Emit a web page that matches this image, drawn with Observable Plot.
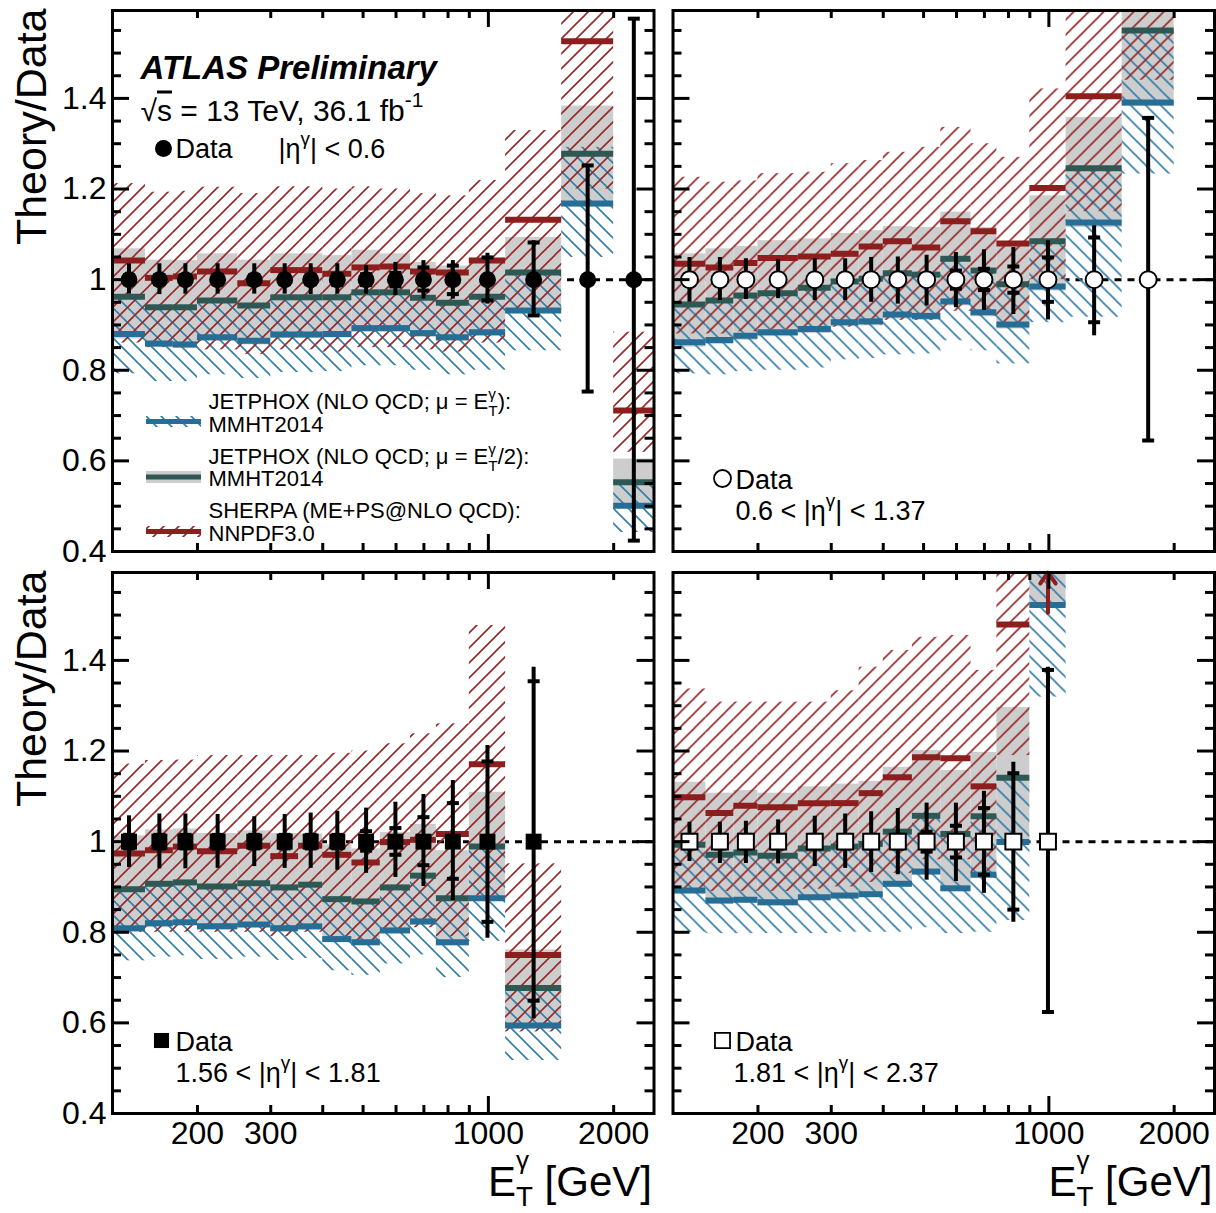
<!DOCTYPE html>
<html><head><meta charset="utf-8">
<script src="https://cdn.jsdelivr.net/npm/d3@7"></script>
<script src="https://cdn.jsdelivr.net/npm/@observablehq/plot@0.6"></script>
<style>html,body{margin:0;padding:0;background:#fff;}#chart{width:1216px;height:1213px;}</style>
</head><body><div id="chart"></div>
<script>
// ---------------- data ----------------
const edges = [125,150,175,200,250,300,350,400,470,550,650,750,900,1100,1500,2000,2500];
const xTickLabels = [200,300,1000,2000];
const xMinorTicks = [200,300,400,500,600,700,800,900,2000];
const xMajorTicks = [1000];
const yTickLabels = [0.4,0.6,0.8,1,1.2,1.4];
const yMinorTicks = [0.45,0.5,0.55,0.65,0.7,0.75,0.85,0.9,0.95,1.05,1.1,1.15,1.25,1.3,1.35,1.45,1.5,1.55];
const dataRatio = 1;

// |eta| < 0.6
const eta1_totUp  = [0.035,0.035,0.035,0.035,0.035,0.035,0.035,0.035,0.031,0.038,0.042,0.042,0.058,0.086,0.252,0.576];
const eta1_totDn  = [0.032,0.033,0.032,0.032,0.032,0.032,0.033,0.032,0.032,0.035,0.043,0.043,0.054,0.083,0.247,0.576];
const eta1_statUp = [0.01,0.01,0.01,0.01,0.01,0.01,0.01,0.012,0.012,0.015,0.027,0.031,0.049,0.082,0.252,0.576];
const eta1_statDn = [0.01,0.01,0.01,0.01,0.01,0.01,0.01,0.012,0.012,0.015,0.024,0.032,0.046,0.079,0.247,0.576];
const eta1_sherpa   = [1.042,1.004,1.007,1.018,0.992,1.021,1.021,1.013,1.027,1.029,1.018,1.016,1.042,1.132,1.526,0.711];
const eta1_sherpaLo = [0.86,0.85,0.85,0.845,0.835,0.845,0.845,0.84,0.85,0.85,0.845,0.84,0.86,0.93,1.2,0.619];
const eta1_sherpaHi = [1.212,1.193,1.195,1.204,1.19,1.205,1.205,1.2,1.205,1.2,1.19,1.185,1.219,1.329,1.85,0.884];
const eta1_jp2   = [0.962,0.939,0.939,0.954,0.943,0.961,0.961,0.961,0.972,0.972,0.96,0.949,0.962,1.016,1.278,0.553];
const eta1_jp2Lo = [0.869,0.85,0.848,0.864,0.856,0.87,0.87,0.871,0.884,0.884,0.873,0.864,0.875,0.925,1.16,0.505];
const eta1_jp2Hi = [1.068,1.043,1.042,1.057,1.043,1.057,1.057,1.053,1.065,1.057,1.038,1.03,1.047,1.093,1.383,0.604];
const eta1_jp   = [0.88,0.859,0.857,0.873,0.865,0.879,0.879,0.88,0.893,0.893,0.882,0.873,0.884,0.932,1.168,0.501];
const eta1_jpLo = [0.792,0.775,0.775,0.79,0.782,0.795,0.795,0.797,0.81,0.81,0.8,0.79,0.8,0.843,1.049,0.442];
const eta1_jpHi = [0.962,0.939,0.939,0.954,0.943,0.961,0.961,0.961,0.972,0.972,0.96,0.949,0.962,1.016,1.292,0.553];

// 0.6 < |eta| < 1.37
const eta2_totUp  = [0.049,0.049,0.046,0.044,0.046,0.046,0.049,0.05,0.054,0.06,0.066,0.071,0.086,0.119,0.357];
const eta2_totDn  = [0.05,0.046,0.044,0.042,0.046,0.046,0.05,0.054,0.058,0.062,0.068,0.077,0.089,0.124,0.355];
const eta2_statUp = [0.012,0.012,0.012,0.012,0.012,0.012,0.012,0.012,0.012,0.02,0.024,0.029,0.049,0.093,0.357];
const eta2_statDn = [0.012,0.012,0.012,0.012,0.012,0.012,0.012,0.012,0.012,0.02,0.023,0.029,0.049,0.094,0.355];
const eta2_sherpa   = [1.035,1.027,1.037,1.048,1.051,1.057,1.073,1.085,1.071,1.129,1.107,1.08,1.202,1.405,1.75];
const eta2_sherpaLo = [0.88,0.88,0.885,0.89,0.89,0.895,0.9,0.91,0.91,0.93,0.92,0.9,1.0,1.15,1.44];
const eta2_sherpaHi = [1.226,1.215,1.218,1.234,1.237,1.256,1.263,1.281,1.292,1.336,1.3,1.27,1.421,1.75,2.1];
const eta2_jp2   = [0.945,0.954,0.965,0.97,0.982,0.996,1.002,1.014,1.011,1.046,1.02,0.99,1.085,1.246,1.55];
const eta2_jp2Lo = [0.851,0.857,0.866,0.874,0.881,0.896,0.898,0.913,0.91,0.942,0.918,0.891,0.975,1.115,1.382];
const eta2_jp2Hi = [1.057,1.068,1.073,1.086,1.09,1.102,1.108,1.117,1.115,1.149,1.115,1.075,1.185,1.358,1.75];
const eta2_jp   = [0.862,0.867,0.876,0.884,0.891,0.906,0.908,0.923,0.92,0.952,0.928,0.901,0.985,1.126,1.391];
const eta2_jpLo = [0.792,0.79,0.797,0.8,0.805,0.823,0.826,0.834,0.836,0.865,0.843,0.814,0.905,0.917,1.233];
const eta2_jpHi = [0.945,0.954,0.965,0.97,0.982,0.996,1.002,1.014,1.011,1.046,1.02,0.99,1.085,1.246,1.55];

// 1.56 < |eta| < 1.81
const eta3_totUp  = [0.057,0.061,0.061,0.06,0.055,0.06,0.063,0.067,0.074,0.087,0.104,0.135,0.212,0.385];
const eta3_totDn  = [0.057,0.06,0.06,0.059,0.055,0.059,0.059,0.063,0.07,0.079,0.099,0.13,0.213,0.391];
const eta3_statUp = [0.015,0.015,0.015,0.015,0.015,0.015,0.015,0.015,0.023,0.03,0.054,0.085,0.177,0.354];
const eta3_statDn = [0.015,0.015,0.015,0.015,0.015,0.015,0.015,0.015,0.02,0.029,0.052,0.082,0.177,0.351];
const eta3_sherpa   = [0.974,0.981,0.989,0.979,0.991,0.968,0.991,0.971,0.954,0.999,1.004,1.017,1.171,0.75];
const eta3_sherpaLo = [0.8,0.8,0.8,0.8,0.8,0.79,0.8,0.79,0.78,0.8,0.81,0.79,0.88,0.58];
const eta3_sherpaHi = [1.171,1.179,1.18,1.19,1.19,1.19,1.19,1.195,1.2,1.216,1.238,1.26,1.477,0.951];
const eta3_jp2   = [0.895,0.907,0.91,0.901,0.908,0.899,0.905,0.873,0.868,0.899,0.925,0.875,0.989,0.677];
const eta3_jp2Lo = [0.8,0.81,0.815,0.805,0.81,0.8,0.805,0.777,0.77,0.797,0.815,0.77,0.87,0.587];
const eta3_jp2Hi = [1.013,1.026,1.028,1.018,1.024,1.018,1.017,0.993,0.984,1.02,1.038,0.98,1.109,0.761];
const eta3_jp   = [0.809,0.82,0.822,0.813,0.817,0.809,0.813,0.785,0.778,0.804,0.824,0.778,0.875,0.594];
const eta3_jpLo = [0.737,0.745,0.748,0.74,0.745,0.738,0.742,0.715,0.705,0.73,0.75,0.7,0.78,0.517];
const eta3_jpHi = [0.895,0.907,0.91,0.901,0.908,0.899,0.905,0.873,0.868,0.899,0.925,0.875,0.989,0.677];

// 1.81 < |eta| < 2.37
const eta4_totUp  = [0.043,0.043,0.045,0.048,0.056,0.061,0.066,0.073,0.085,0.085,0.111,0.175,0.385];
const eta4_totDn  = [0.044,0.048,0.048,0.049,0.055,0.059,0.068,0.073,0.085,0.088,0.114,0.178,0.38];
const eta4_statUp = [0.015,0.015,0.015,0.015,0.015,0.015,0.015,0.015,0.022,0.035,0.074,0.151,0.379];
const eta4_statDn = [0.015,0.015,0.015,0.015,0.015,0.015,0.015,0.015,0.022,0.035,0.073,0.15,0.376];
const eta4_sherpa   = [1.098,1.063,1.079,1.076,1.085,1.085,1.107,1.142,1.186,1.184,1.122,1.479,1.9];
const eta4_sherpaLo = [0.89,0.89,0.89,0.89,0.895,0.9,0.91,0.93,0.96,0.96,0.92,1.19,1.6];
const eta4_sherpaHi = [1.337,1.308,1.308,1.308,1.308,1.333,1.385,1.422,1.451,1.455,1.378,1.8,2.3];
const eta4_jp2   = [0.993,0.971,0.976,0.969,0.985,0.989,0.995,1.022,1.057,1.017,1.056,1.141,1.75];
const eta4_jp2Lo = [0.885,0.862,0.865,0.858,0.87,0.874,0.877,0.9,0.927,0.89,0.92,0.992,1.517];
const eta4_jp2Hi = [1.131,1.107,1.113,1.107,1.121,1.127,1.133,1.164,1.201,1.157,1.197,1.296,2.0];
const eta4_jp   = [0.892,0.87,0.872,0.866,0.877,0.881,0.884,0.907,0.934,0.897,0.927,0.999,1.522];
const eta4_jpLo = [0.8,0.797,0.797,0.797,0.797,0.8,0.8,0.8,0.81,0.797,0.8,0.826,1.319];
const eta4_jpHi = [0.993,0.971,0.976,0.969,0.985,0.989,0.995,1.022,1.057,1.017,1.056,1.141,1.75];
// SHERPA prediction off scale (arrow): bin index and arrow start
const eta4_arrow = [{bin: 12, from: 1.505}];

// ---------------- layout / style ----------------
const FONT = "'Liberation Sans', Arimo, Arial, Helvetica, sans-serif";
const W = 1216, H = 1213, ML = 112, MR = 2, MT = 10, MB = 100, GX = 19, GY = 21;
const PW = (W - ML - MR - GX) / 2, PH = (H - MT - MB - GY) / 2;
const Y_TOP = 1.594;
const GRAY = "#cdcdcd", RED = "#8c1e1e", REDH = "#962828", BLUE = "#266e96", BLUEH = "#327daa", TEAL = "#2e5854";

const panels = [
  {fx:0, fy:0, symbol:"circle", open:false, totUp:eta1_totUp, totDn:eta1_totDn, statUp:eta1_statUp, statDn:eta1_statDn,
   sh:eta1_sherpa, shLo:eta1_sherpaLo, shHi:eta1_sherpaHi, jp2:eta1_jp2, jp2Lo:eta1_jp2Lo, jp2Hi:eta1_jp2Hi, jp:eta1_jp, jpLo:eta1_jpLo, jpHi:eta1_jpHi, arrows:[]},
  {fx:1, fy:0, symbol:"circle", open:true, totUp:eta2_totUp, totDn:eta2_totDn, statUp:eta2_statUp, statDn:eta2_statDn,
   sh:eta2_sherpa, shLo:eta2_sherpaLo, shHi:eta2_sherpaHi, jp2:eta2_jp2, jp2Lo:eta2_jp2Lo, jp2Hi:eta2_jp2Hi, jp:eta2_jp, jpLo:eta2_jpLo, jpHi:eta2_jpHi, arrows:[]},
  {fx:0, fy:1, symbol:"square", open:false, totUp:eta3_totUp, totDn:eta3_totDn, statUp:eta3_statUp, statDn:eta3_statDn,
   sh:eta3_sherpa, shLo:eta3_sherpaLo, shHi:eta3_sherpaHi, jp2:eta3_jp2, jp2Lo:eta3_jp2Lo, jp2Hi:eta3_jp2Hi, jp:eta3_jp, jpLo:eta3_jpLo, jpHi:eta3_jpHi, arrows:[]},
  {fx:1, fy:1, symbol:"square", open:true, totUp:eta4_totUp, totDn:eta4_totDn, statUp:eta4_statUp, statDn:eta4_statDn,
   sh:eta4_sherpa, shLo:eta4_sherpaLo, shHi:eta4_sherpaHi, jp2:eta4_jp2, jp2Lo:eta4_jp2Lo, jp2Hi:eta4_jp2Hi, jp:eta4_jp, jpLo:eta4_jpLo, jpHi:eta4_jpHi, arrows:eta4_arrow}
];

function binsOf(p) {
  return p.sh.map((_, i) => ({
    fx: p.fx, fy: p.fy,
    x1: edges[i], x2: edges[i+1], xc: Math.sqrt(edges[i] * edges[i+1]),
    v: dataRatio,
    tlo: dataRatio - p.totDn[i], thi: dataRatio + p.totUp[i],
    slo: dataRatio - p.statDn[i], shi: dataRatio + p.statUp[i],
    sh: p.sh[i], shLo: p.shLo[i], shHi: p.shHi[i],
    jp2: p.jp2[i], jp2Lo: p.jp2Lo[i], jp2Hi: p.jp2Hi[i],
    jp: p.jp[i], jpLo: p.jpLo[i], jpHi: p.jpHi[i]
  }));
}

const hbar = {draw(ctx, size) { const w = Math.sqrt(size / Math.PI); ctx.moveTo(-w, 0); ctx.lineTo(w, 0); }};
const F = {fx: "fx", fy: "fy"};
const clip = true;

const marks = [];
marks.push(Plot.ruleY([dataRatio], {stroke: "black", strokeWidth: 3, strokeDasharray: "7,6"}));
for (const p of panels) {
  const bins = binsOf(p);
  marks.push(
    Plot.rect(bins, {...F, x1: "x1", x2: "x2", y1: "jp2Lo", y2: "jp2Hi", fill: GRAY, clip}),
    Plot.rect(bins, {...F, x1: "x1", x2: "x2", y1: "jpLo", y2: "jpHi", fill: "url(#hatchBlue)", clip}),
    Plot.rect(bins, {...F, x1: "x1", x2: "x2", y1: "shLo", y2: "shHi", fill: "url(#hatchRed)", clip}),
    Plot.ruleY(bins, {...F, x1: "x1", x2: "x2", y: "jp", stroke: BLUE, strokeWidth: 6, clip}),
    Plot.ruleY(bins, {...F, x1: "x1", x2: "x2", y: "jp2", stroke: TEAL, strokeWidth: 6, clip}),
    Plot.ruleY(bins, {...F, x1: "x1", x2: "x2", y: "sh", stroke: RED, strokeWidth: 6, clip})
  );
  if (p.arrows.length) {
    const arr = p.arrows.map(a => ({fx: p.fx, fy: p.fy, xc: bins[a.bin].xc, from: a.from, to: Y_TOP}));
    marks.push(Plot.arrow(arr, {...F, x: "xc", y1: "from", y2: "to", stroke: RED, strokeWidth: 4, headLength: 17, headAngle: 70}));
  }
  const statPts = bins.flatMap(d => [{...d, y: d.slo}, {...d, y: d.shi}]);
  marks.push(
    Plot.ruleX(bins, {...F, x: "xc", y1: "tlo", y2: "thi", stroke: "black", strokeWidth: 4, clip}),
    Plot.dot(statPts, {...F, x: "xc", y: "y", symbol: hbar, r: 6, stroke: "black", strokeWidth: 4, fill: "none"}),
    Plot.dot(bins, {...F, x: "xc", y: "v", symbol: p.symbol, r: p.symbol === "square" ? 9 : 8.5,
      fill: p.open ? "white" : "black", stroke: "black", strokeWidth: p.open ? 2 : 0})
  );
}

// frame + inward ticks (ROOT style)
const tk = {stroke: "black", strokeWidth: 3};
marks.push(
  Plot.ruleX(xMinorTicks, {x: d => d, insetTop: PH - 8, ...tk}),
  Plot.ruleX(xMinorTicks, {x: d => d, insetBottom: PH - 8, ...tk}),
  Plot.ruleX(xMajorTicks, {x: d => d, insetTop: PH - 17, ...tk}),
  Plot.ruleX(xMajorTicks, {x: d => d, insetBottom: PH - 17, ...tk}),
  Plot.ruleY(yMinorTicks, {y: d => d, insetRight: PW - 9, ...tk}),
  Plot.ruleY(yMinorTicks, {y: d => d, insetLeft: PW - 9, ...tk}),
  Plot.ruleY(yTickLabels, {y: d => d, insetRight: PW - 17, ...tk}),
  Plot.ruleY(yTickLabels, {y: d => d, insetLeft: PW - 17, ...tk}),
  Plot.frame({stroke: "black", strokeWidth: 3})
);

// texts
function txt(fx, fy, text, o) {
  return Plot.text([{fx, fy, text}], {...F, text: "text", frameAnchor: "top-left", textAnchor: "start", lineAnchor: "bottom", fill: "black", ...o});
}
function box(fx, fy, x0, y0, w, h, fill) {
  return Plot.rect([{fx, fy}], {...F, fill, insetLeft: x0, insetRight: PW - x0 - w, insetTop: y0, insetBottom: PH - y0 - h});
}
function mk(fx, fy, symbol, open, dx, dy) {
  return Plot.dot([{fx, fy}], {...F, frameAnchor: "top-left", dx, dy, symbol, r: 8.5,
    fill: open ? "white" : "black", stroke: "black", strokeWidth: open ? 1.8 : 0});
}
marks.push(
  txt(0, 0, "ATLAS Preliminary", {dx: 28, dy: 68, fontSize: 33, fontWeight: "bold", fontStyle: "italic"}),
  txt(0, 0, "√~{s} = 13 TeV, 36.1 fb^{-1}", {dx: 28, dy: 110, fontSize: 30}),
  mk(0, 0, "circle", false, 51, 138),
  txt(0, 0, "Data", {dx: 63, dy: 147, fontSize: 27}),
  txt(0, 0, "|η^{γ}| < 0.6", {dx: 166, dy: 147, fontSize: 27}),
  box(0, 0, 34, 406, 55, 11, "url(#hatchBlue)"),
  box(0, 0, 34, 409, 55, 5, BLUE),
  box(0, 0, 34, 461, 55, 12, GRAY),
  box(0, 0, 34, 464.5, 55, 5, TEAL),
  box(0, 0, 34, 516, 55, 11, "url(#hatchRed)"),
  box(0, 0, 34, 519, 55, 5, RED),
  txt(0, 0, "JETPHOX (NLO QCD; μ = E_{T}^{γ}):", {dx: 96, dy: 398, fontSize: 22}),
  txt(0, 0, "MMHT2014", {dx: 96, dy: 421, fontSize: 22}),
  txt(0, 0, "JETPHOX (NLO QCD; μ = E_{T}^{γ}/2):", {dx: 96, dy: 453, fontSize: 22}),
  txt(0, 0, "MMHT2014", {dx: 96, dy: 475, fontSize: 22}),
  txt(0, 0, "SHERPA (ME+PS@NLO QCD):", {dx: 96, dy: 507, fontSize: 22}),
  txt(0, 0, "NNPDF3.0", {dx: 96, dy: 530, fontSize: 22}),
  mk(1, 0, "circle", true, 49.5, 468),
  txt(1, 0, "Data", {dx: 62.5, dy: 478, fontSize: 27}),
  txt(1, 0, "0.6 < |η^{γ}| < 1.37", {dx: 62.5, dy: 509, fontSize: 27}),
  mk(0, 1, "square", false, 49, 468),
  txt(0, 1, "Data", {dx: 63, dy: 478, fontSize: 27}),
  txt(0, 1, "1.56 < |η^{γ}| < 1.81", {dx: 63, dy: 509, fontSize: 27}),
  mk(1, 1, "square", true, 49.5, 468),
  txt(1, 1, "Data", {dx: 62.5, dy: 478, fontSize: 27}),
  txt(1, 1, "1.81 < |η^{γ}| < 2.37", {dx: 60.5, dy: 509, fontSize: 27})
);
for (const fy of [0, 1]) {
  marks.push(Plot.text([{fx: 0, fy, text: "Theory/Data"}], {...F, text: "text", frameAnchor: "top-left", rotate: -90,
    textAnchor: "end", lineAnchor: "middle", dx: -80, dy: -2, fontSize: 43, fill: "black"}));
}
for (const fx of [0, 1]) {
  marks.push(Plot.text([{fx, fy: 1, text: "E_[T]^[γ] [GeV]"}], {...F, text: "text", frameAnchor: "bottom-right",
    textAnchor: "end", lineAnchor: "bottom", dx: -2, dy: 82, fontSize: 42, fill: "black"}));
}

const svg = Plot.plot({
  width: W, height: H, marginLeft: ML, marginRight: MR, marginTop: MT, marginBottom: MB,
  style: {fontFamily: FONT, fontSize: "32px", background: "white", color: "black", overflow: "visible"},
  fx: {domain: [0, 1], axis: null, paddingInner: GX / (PW + GX), paddingOuter: 0, round: false},
  fy: {domain: [0, 1], axis: null, paddingInner: GY / (PH + GY), paddingOuter: 0, round: false},
  x: {type: "log", domain: [125, 2500], ticks: xTickLabels, tickFormat: d => String(d), tickSize: 0, tickPadding: 8, label: null},
  y: {domain: [0.4, Y_TOP], ticks: yTickLabels, tickFormat: d => d === 1 ? "1" : d.toFixed(1), tickSize: 0, tickPadding: 6, label: null},
  marks
});
document.getElementById("chart").appendChild(svg);

// hatch patterns
const NS = "http://www.w3.org/2000/svg";
const defs = document.createElementNS(NS, "defs");
function hatch(id, d, color) {
  const pat = document.createElementNS(NS, "pattern");
  pat.setAttribute("id", id); pat.setAttribute("patternUnits", "userSpaceOnUse");
  pat.setAttribute("width", 15); pat.setAttribute("height", 15);
  const path = document.createElementNS(NS, "path");
  path.setAttribute("d", d); path.setAttribute("stroke", color); path.setAttribute("stroke-width", 1.6); path.setAttribute("fill", "none");
  pat.appendChild(path); defs.appendChild(pat);
}
hatch("hatchRed", "M-3,3 L3,-3 M0,15 L15,0 M12,18 L18,12", REDH);
hatch("hatchBlue", "M-3,12 L3,18 M0,0 L15,15 M12,-3 L18,3", BLUEH);
svg.insertBefore(defs, svg.firstChild);

// rich text: ^{sup} _{sub} (^[..]/_[..] alternative offsets), ~{overline}
svg.querySelectorAll("text").forEach(t => {
  const s = t.textContent;
  if (!/[\^_~][\{\[]/.test(s)) return;
  const fs = parseFloat(getComputedStyle(t).fontSize);
  while (t.firstChild) t.removeChild(t.firstChild);
  const re = /([\^_~])(?:\{([^}]*)\}|\[([^\]]*)\])|([^\^_~]+)/g;
  let m, shift = 0, prev = null, pending = 0;
  while ((m = re.exec(s))) {
    const ts = document.createElementNS(NS, "tspan");
    let kind = "n", size = fs, target = 0, str;
    if (m[4] !== undefined) str = m[4];
    else {
      const alt = m[3] !== undefined;
      str = alt ? m[3] : m[2];
      if (m[1] === "^") { kind = "sup"; size = (alt ? 0.62 : 0.7) * fs; target = -(alt ? 0.62 : 0.45) * fs; }
      else if (m[1] === "_") { kind = "sub"; size = (alt ? 0.66 : 0.7) * fs; target = (alt ? 0.25 : 0.36) * fs; }
      else kind = "ov";
    }
    ts.textContent = str;
    ts.setAttribute("font-size", size);
    if (target !== shift) ts.setAttribute("dy", target - shift);
    shift = target;
    if (kind === "ov") ts.setAttribute("text-decoration", "overline");
    const stacked = kind === "sup" && prev && prev.kind === "sub";
    const dx = stacked ? -prev.w : pending;
    if (dx) ts.setAttribute("dx", dx);
    t.appendChild(ts);
    const w = ts.getComputedTextLength();
    pending = stacked ? Math.max(0, prev.w - w) : 0;
    prev = {kind, w};
  }
});
</script>
</body></html>
